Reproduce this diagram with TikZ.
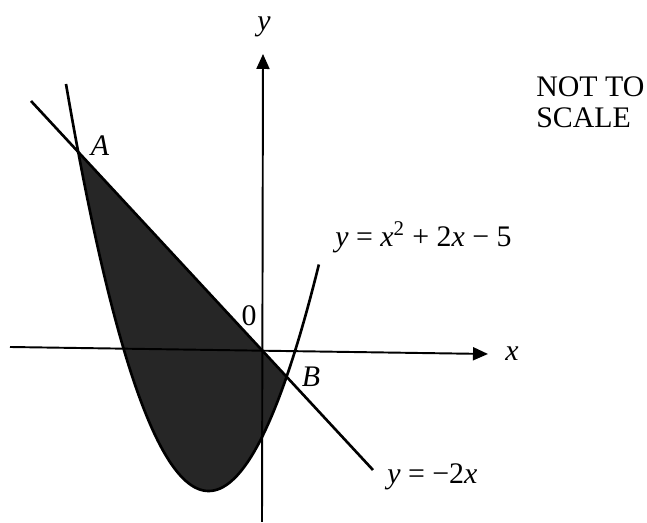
\documentclass[tikz,border=0pt]{standalone}
\usepackage{fontspec}
\setmainfont{Liberation Serif}
\usetikzlibrary{arrows.meta,calc}
\definecolor{regionfill}{gray}{0.15}

\begin{document}
\begin{tikzpicture}[x=0.02cm, y=-0.02cm, >={Triangle[length=3mm,width=2.6mm]},
    font=\fontsize{17}{17.6}\selectfont,
    axis/.style={line width=1.1pt},
    curve/.style={line width=1.5pt},
    lbl/.style={inner sep=0pt}]
  \useasboundingbox (0,0) rectangle (647,523);
  % points where the curve meets the line
  \coordinate (A) at (78.2,152);
  \coordinate (B) at (286.4,376.5);
  \coordinate (lineS) at (31,101);
  \coordinate (lineE) at (373,470);
  \coordinate (xL) at (10,347);
  \coordinate (xR) at (488,354);
  \coordinate (yB) at (262,522);
  \coordinate (yT) at (263,54);

  % shaded region
  \fill[regionfill] plot[domain=0.05:0.875, samples=60, variable=\t]
    ({66*(1-\t)^2+376*\t*(1-\t)+319*\t^2}, {84*(1-\t)^2+1590*\t*(1-\t)+264*\t^2}) -- cycle;

  \draw[axis,->] (xL) -- (xR);
  \draw[axis,->] (yB) -- (yT);

  % parabola and line
  \draw[curve] plot[domain=0:1, samples=90, variable=\t]
    ({66*(1-\t)^2+376*\t*(1-\t)+319*\t^2}, {84*(1-\t)^2+1590*\t*(1-\t)+264*\t^2});
  \draw[curve] (lineS) -- (lineE);

  \node[lbl, anchor=base] (ylab) at (264,31) {\textit{y}};
  \node[lbl, anchor=base] (xlab) at (512,361) {\textit{x}};
  \node[lbl] (Alab) at (100,146) {\textit{A}};
  \node[lbl] (Blab) at (311,377) {\textit{B}};
  \node[lbl] (olab) at (249,316) {0};
  \node[lbl, anchor=base west] (parlab) at (335,247)
    {\textit{y} = \textit{x}\textsuperscript{2} + 2\textit{x} − 5};
  \node[lbl, anchor=base west] (linlab) at (387,484) {\textit{y} = −2\textit{x}};
  \node[lbl, anchor=north west, align=left] (note) at (536,76) {NOT TO\\SCALE};
\end{tikzpicture}
\end{document}
